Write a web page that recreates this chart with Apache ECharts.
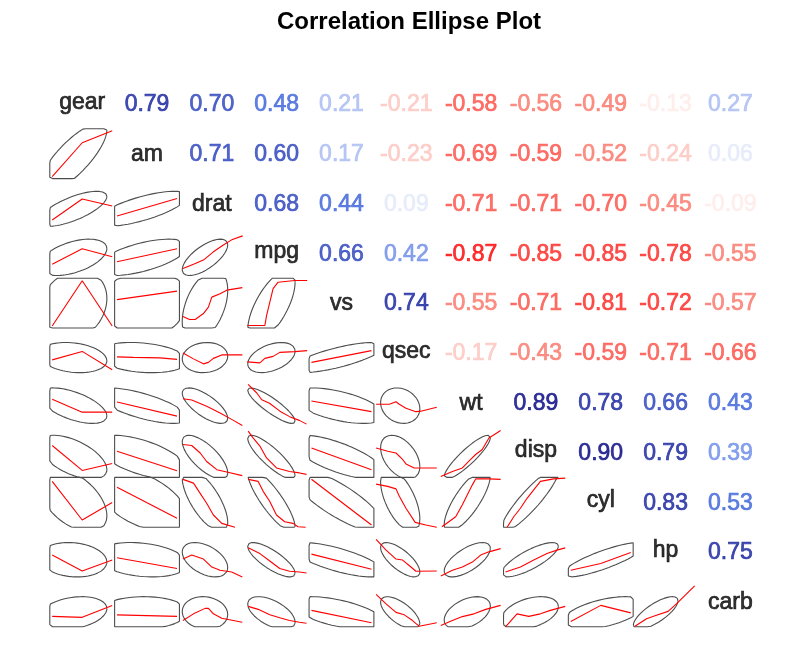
<!DOCTYPE html>
<html>
<head>
<meta charset="utf-8">
<title>Correlation Ellipse Plot</title>
<script src="https://cdn.jsdelivr.net/npm/echarts@6/dist/echarts.min.js"></script>
<style>
  html, body { margin: 0; padding: 0; background: #fff; }
  #main { width: 799px; height: 666px; }
</style>
</head>
<body>
<div id="main"></div>
<script>
// variables, in the order of the matrix
var varNames = ['gear', 'am', 'drat', 'mpg', 'vs', 'qsec', 'wt', 'disp', 'cyl', 'hp', 'carb'];
var varMean = [3.6875, 0.40625, 3.5966, 20.0906, 0.4375, 17.8488, 3.2172, 230.72, 6.1875, 146.69, 2.8125];
var varSd   = [0.7378, 0.4990, 0.5347, 6.0269, 0.5040, 1.7869, 0.9785, 123.94, 1.7859, 68.563, 1.6152];
var varMin  = [3, 0, 2.76, 10.4, 0, 14.5, 1.513, 71.1, 4, 52, 1];
var varMax  = [5, 1, 4.93, 33.9, 1, 22.9, 5.424, 472, 8, 335, 8];

// upper triangle, row by row (values right of the diagonal)
var corrUpper = [
    [0.79, 0.70, 0.48, 0.21, -0.21, -0.58, -0.56, -0.49, -0.13, 0.27],
    [0.71, 0.60, 0.17, -0.23, -0.69, -0.59, -0.52, -0.24, 0.06],
    [0.68, 0.44, 0.09, -0.71, -0.71, -0.70, -0.45, -0.09],
    [0.66, 0.42, -0.87, -0.85, -0.85, -0.78, -0.55],
    [0.74, -0.55, -0.71, -0.81, -0.72, -0.57],
    [-0.17, -0.43, -0.59, -0.71, -0.66],
    [0.89, 0.78, 0.66, 0.43],
    [0.90, 0.79, 0.39],
    [0.83, 0.53],
    [0.75]
];

// smoothed (lowess) lines of the lower panels, [x, y] as fractions of the panel
var smoothAm = [
    [[0.037,0.04],[0.5,0.72],[0.963,0.96]]
];
var smoothDrat = [
    [[0.037,0.17],[0.5,0.59],[0.963,0.45]],
    [[0.037,0.25],[0.963,0.60]]
];
var smoothMpg = [
    [[0.037,0.28],[0.5,0.59],[0.963,0.43]],
    [[0.037,0.33],[0.963,0.59]],
    [[0.054,0.196],[0.217,0.28],[0.37,0.364],[0.524,0.53],[0.677,0.667],[0.806,0.77],[0.975,0.85]]
];
var smoothVs = [
    [[0.037,0.04],[0.5,0.95],[0.963,0.04]],
    [[0.037,0.57],[0.963,0.74]],
    [[0.054,0.23],[0.155,0.17],[0.243,0.17],[0.37,0.29],[0.447,0.42],[0.499,0.62],[0.627,0.69],[0.73,0.76],[0.97,0.81]],
    [[0.046,0.05],[0.318,0.05],[0.344,0.25],[0.445,0.79],[0.522,0.92],[0.779,0.955],[0.97,0.955]]
];
var smoothQsec = [
    [[0.037,0.36],[0.5,0.53],[0.963,0.16]],
    [[0.037,0.42],[0.29,0.41],[0.70,0.40],[0.963,0.37]],
    [[0.054,0.50],[0.217,0.38],[0.37,0.28],[0.447,0.31],[0.524,0.39],[0.653,0.46],[0.97,0.46]],
    [[0.046,0.32],[0.24,0.30],[0.318,0.39],[0.445,0.43],[0.548,0.51],[0.779,0.525],[0.97,0.545]],
    [[0.037,0.31],[0.963,0.545]]
];
var smoothWt = [
    [[0.037,0.57],[0.5,0.31],[0.963,0.31]],
    [[0.037,0.515],[0.963,0.23]],
    [[0.054,0.58],[0.19,0.555],[0.42,0.43],[0.62,0.30],[0.806,0.165],[0.97,0.044]],
    [[0.06,0.87],[0.19,0.70],[0.27,0.56],[0.39,0.49],[0.55,0.33],[0.70,0.22],[0.85,0.145],[0.96,0.07]],
    [[0.037,0.535],[0.963,0.32]],
    [[0.034,0.47],[0.238,0.47],[0.341,0.52],[0.392,0.47],[0.495,0.39],[0.648,0.32],[0.725,0.33],[0.97,0.41]]
];
var smoothDisp = [
    [[0.037,0.64],[0.5,0.14],[0.963,0.28]],
    [[0.037,0.525],[0.963,0.135]],
    [[0.054,0.66],[0.19,0.64],[0.32,0.49],[0.42,0.32],[0.577,0.155],[0.73,0.11],[0.97,0.035]],
    [[0.06,0.93],[0.139,0.79],[0.241,0.63],[0.344,0.39],[0.498,0.19],[0.70,0.12],[0.853,0.09],[0.96,0.06]],
    [[0.037,0.59],[0.963,0.155]],
    [[0.034,0.59],[0.213,0.525],[0.341,0.49],[0.443,0.36],[0.495,0.27],[0.622,0.19],[0.97,0.19]],
    [[0.032,0.02],[0.211,0.12],[0.365,0.19],[0.493,0.36],[0.57,0.46],[0.672,0.56],[0.775,0.79],[0.955,0.94]]
];
var smoothCyl = [
    [[0.037,0.92],[0.5,0.145],[0.963,0.495]],
    [[0.037,0.80],[0.963,0.18]],
    [[0.054,0.96],[0.217,0.885],[0.32,0.68],[0.42,0.48],[0.524,0.245],[0.653,0.077],[0.857,0.0]],
    [[0.061,0.96],[0.215,0.92],[0.292,0.72],[0.394,0.515],[0.497,0.245],[0.624,0.11],[0.752,0.077],[0.829,0.01],[0.947,0.0]],
    [[0.037,0.963],[0.963,0.044]],
    [[0.034,0.865],[0.213,0.82],[0.341,0.77],[0.392,0.62],[0.495,0.38],[0.637,0.097],[0.801,0.044],[0.97,0.0]],
    [[0.05,0.01],[0.262,0.21],[0.365,0.45],[0.442,0.65],[0.519,0.85],[0.57,0.97],[0.776,0.97],[0.955,0.96]],
    [[0.055,0.0],[0.158,0.21],[0.261,0.38],[0.363,0.58],[0.466,0.75],[0.569,0.92],[0.773,0.97],[0.952,0.985]]
];
var smoothHp = [
    [[0.037,0.44],[0.5,0.12],[0.963,0.34]],
    [[0.037,0.385],[0.963,0.17]],
    [[0.054,0.36],[0.19,0.44],[0.37,0.36],[0.5,0.20],[0.627,0.135],[0.806,0.10],[0.97,0.0]],
    [[0.061,0.585],[0.241,0.47],[0.394,0.32],[0.548,0.17],[0.70,0.115],[0.853,0.10],[0.96,0.08]],
    [[0.037,0.46],[0.963,0.155]],
    [[0.034,0.755],[0.188,0.54],[0.341,0.36],[0.443,0.34],[0.572,0.20],[0.648,0.115],[0.97,0.12]],
    [[0.032,0.02],[0.211,0.135],[0.365,0.20],[0.519,0.30],[0.647,0.44],[0.775,0.505],[0.955,0.57]],
    [[0.031,0.10],[0.261,0.20],[0.466,0.34],[0.67,0.47],[0.823,0.54],[0.952,0.585]],
    [[0.037,0.135],[0.5,0.27],[0.963,0.49]]
];
var smoothCarb = [
    [[0.037,0.21],[0.5,0.19],[0.963,0.43]],
    [[0.037,0.24],[0.963,0.21]],
    [[0.054,0.125],[0.217,0.26],[0.396,0.37],[0.447,0.37],[0.524,0.26],[0.653,0.17],[0.97,0.09]],
    [[0.061,0.41],[0.215,0.35],[0.394,0.24],[0.548,0.18],[0.70,0.125],[0.853,0.09],[0.96,0.07]],
    [[0.037,0.33],[0.963,0.08]],
    [[0.034,0.65],[0.188,0.46],[0.341,0.29],[0.469,0.24],[0.597,0.125],[0.699,0.01],[0.97,0.08]],
    [[0.032,0.025],[0.211,0.125],[0.365,0.205],[0.545,0.26],[0.725,0.35],[0.955,0.43]],
    [[0.031,0.0],[0.208,0.26],[0.389,0.21],[0.568,0.26],[0.722,0.33],[0.952,0.41]],
    [[0.037,0.105],[0.5,0.43],[0.963,0.28]],
    [[0.028,0.01],[0.206,0.16],[0.359,0.23],[0.539,0.31],[0.667,0.46],[0.949,0.82]]
];
var smoothRows = [[], smoothAm, smoothDrat, smoothMpg, smoothVs, smoothQsec, smoothWt, smoothDisp, smoothCyl, smoothHp, smoothCarb];

var N = varNames.length;
var FONT = "'Liberation Sans', Arial, Helvetica, sans-serif";
var FONT_SIZE = 23;
var RADIUS = 1.538;   // sqrt(2 * qf(0.68, 2, 31))
var SEGMENTS = 75;

// red - salmon - white - royalblue - navy, cut into 14 shades
var rampAnchors = [[255,0,0],[250,128,114],[255,255,255],[65,105,225],[0,0,128]];
function rampPalette(n) {
    var out = [];
    for (var k = 0; k < n; k++) {
        var t = k / (n - 1) * (rampAnchors.length - 1);
        var a = Math.min(Math.floor(t), rampAnchors.length - 2);
        var f = t - a, c = [];
        for (var m = 0; m < 3; m++) {
            c.push(Math.round(rampAnchors[a][m] + (rampAnchors[a + 1][m] - rampAnchors[a][m]) * f));
        }
        out.push('rgb(' + c.join(',') + ')');
    }
    return out;
}
var shades = rampPalette(14);
function corrColor(r) {
    var idx = Math.ceil((r + 1) / 2 * 14) - 1;
    return shades[Math.max(0, Math.min(13, idx))];
}

function corrAt(i, j) {
    var a = Math.min(i, j), b = Math.max(i, j);
    return corrUpper[a][b - a - 1];
}

// mean / sd of a variable as fractions of its panel (range + 4%)
function panelStats(k) {
    var ext = (varMax[k] - varMin[k]) * 0.04;
    var lo = varMin[k] - ext, hi = varMax[k] + ext;
    return { c: (varMean[k] - lo) / (hi - lo), s: varSd[k] / (hi - lo) };
}
function clamp01(v) { return Math.max(0, Math.min(1, v)); }

function ellipsePoints(i, j) {
    var r = corrAt(i, j), sx = panelStats(j), sy = panelStats(i), pts = [];
    var q = Math.sqrt(1 - r * r);
    for (var k = 0; k < SEGMENTS; k++) {
        var t = 2 * Math.PI * k / (SEGMENTS - 1);
        var u = sx.c + RADIUS * sx.s * Math.cos(t);
        var v = sy.c + RADIUS * sy.s * (r * Math.cos(t) + q * Math.sin(t));
        pts.push([j + clamp01(u), i + 1 - clamp01(v)]);
    }
    return pts;
}

// words with a descender sit a little higher (half the descent)
function inkShift(text) {
    return (/[gjpqy]/.test(text) ? -0.105 * FONT_SIZE : 0) + 1;
}

var series = [];
var textData = [];
for (var i = 0; i < N; i++) {
    for (var j = 0; j < N; j++) {
        if (i === j) {
            textData.push({
                value: [j + 0.5, i + 0.5], name: varNames[i],
                label: { color: '#000', textBorderColor: '#000', offset: [0, inkShift(varNames[i])] }
            });
        } else if (j > i) {
            var r = corrAt(i, j);
            var txt = r.toFixed(2);
            var col = corrColor(r);
            textData.push({
                value: [j + 0.5, i + 0.5], name: txt,
                label: { color: col, textBorderColor: col, offset: [0, inkShift(txt)] }
            });
        } else {
            series.push({
                type: 'line', data: ellipsePoints(i, j),
                symbol: 'none', showSymbol: false, silent: true, clip: false, z: 2,
                lineStyle: { color: '#4d4d4d', width: 1.1 }
            });
            series.push({
                type: 'line',
                data: smoothRows[i][j].map(function (p) { return [j + p[0], i + 1 - p[1]]; }),
                symbol: 'none', showSymbol: false, silent: true, clip: false, z: 3,
                lineStyle: { color: '#ff0000', width: 1.1 }
            });
        }
    }
}
series.push({
    type: 'scatter', data: textData, symbolSize: 1, silent: true, z: 4,
    itemStyle: { color: 'rgba(0,0,0,0)' },
    label: {
        show: true, position: 'inside', formatter: '{b}',
        fontFamily: FONT, fontSize: FONT_SIZE, textBorderWidth: 0.7
    }
});

var myChart = echarts.init(document.getElementById('main'), null, { renderer: 'canvas' });
myChart.setOption({
    backgroundColor: '#ffffff',
    animation: false,
    title: {
        text: 'Correlation Ellipse Plot',
        left: 272, top: 5,
        textStyle: { fontFamily: FONT, fontSize: 24, fontWeight: 'bold', color: '#000' }
    },
    grid: { left: 49.8, top: 79, width: 713, height: 547.8 },
    xAxis: { type: 'value', min: 0, max: N, show: false },
    yAxis: { type: 'value', min: 0, max: N, inverse: true, show: false },
    tooltip: { show: false },
    series: series
});
</script>
</body>
</html>
